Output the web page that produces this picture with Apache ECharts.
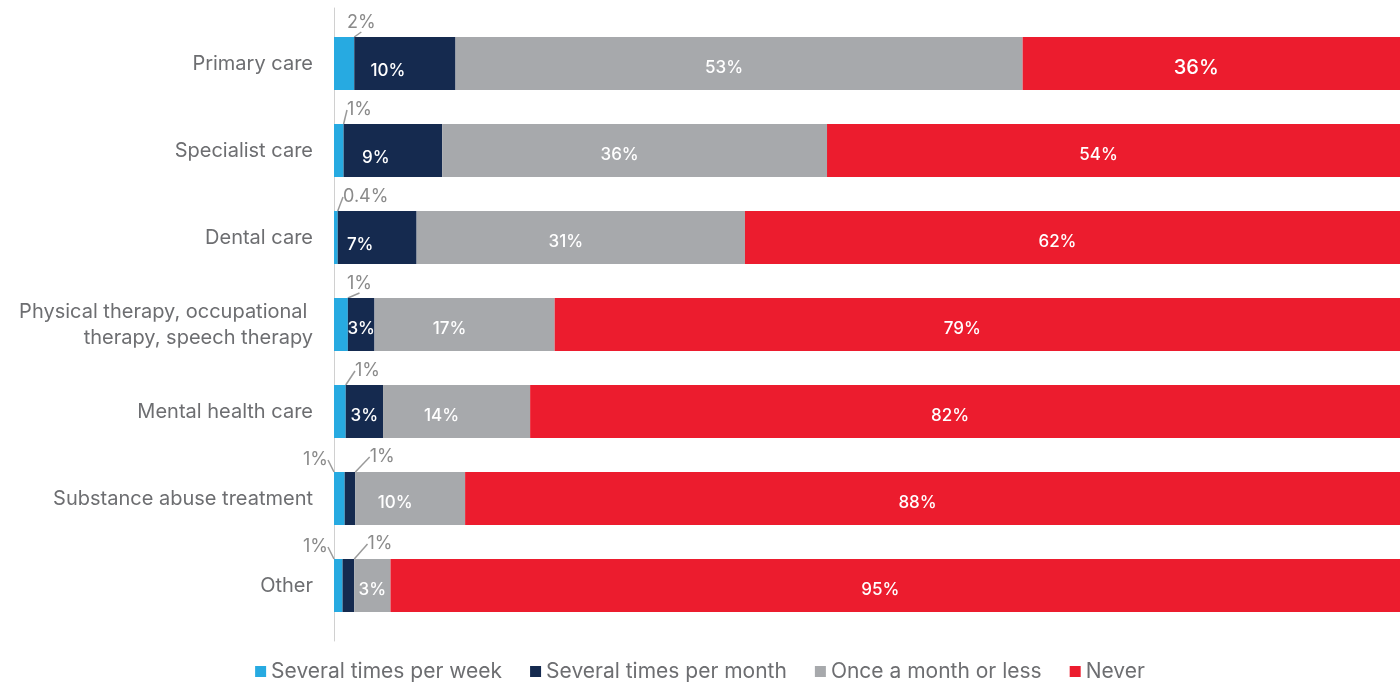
<!DOCTYPE html>
<html>
<head>
<meta charset="utf-8">
<script src="https://cdn.jsdelivr.net/npm/echarts@6/dist/echarts.min.js"></script>
<style>
  html, body { margin: 0; padding: 0; background: #fff; }
  #chart { width: 1400px; height: 684px; }
</style>
</head>
<body>
<div id="chart"></div>
<script>
// categories, top to bottom
var categories = [
  'Primary care',
  'Specialist care',
  'Dental care',
  'Physical therapy, occupational \ntherapy, speech therapy',
  'Mental health care',
  'Substance abuse treatment',
  'Other'
];
var seriesNames = ['Several times per week', 'Several times per month', 'Once a month or less', 'Never'];

// segment widths (percent)
var weekly  = [1.9, 0.9, 0.35, 1.3, 1.1, 1.0, 0.8];
var monthly = [9.5, 9.25, 7.4, 2.5, 3.5, 1.0, 1.1];
var monthOrLess = [53.2, 36.1, 30.8, 16.9, 13.8, 10.3, 3.4];
var never = [36, 54, 62, 79.4, 82, 88, 95];

// printed labels
var weeklyLabels  = ['2%', '1%', '0.4%', '1%', '1%', '1%', '1%'];
var monthlyLabels = ['10%', '9%', '7%', '3%', '3%', '1%', '1%'];
var monthOrLessLabels = ['53%', '36%', '31%', '17%', '14%', '10%', '3%'];
var neverLabels = ['36%', '54%', '62%', '79%', '82%', '88%', '95%'];

var colors = ['#27aae1', '#152a4f', '#a7a9ac', '#ec1c2e'];
var font = 'Inter';

var chart = echarts.init(document.getElementById('chart'));

var insideLabel = { show: true, position: 'inside', color: '#fff', fontSize: 17, fontWeight: 500, fontFamily: font };
var outsideLabel = { show: true, position: 'top', color: '#8a8a8a', fontSize: 18, fontFamily: font };
var guide = { show: true, lineStyle: { color: '#9a9a9a', width: 1.5 } };

function makeItems(values, labels, outsideRows) {
  return values.map(function (v, i) {
    var outside = outsideRows.indexOf(i) !== -1;
    var lbl = Object.assign({}, outside ? outsideLabel : insideLabel, { formatter: labels[i] });
    if (!outside) lbl.offset = v > 5 ? [-15, 4] : [0, 4];
    var item = { value: v, label: lbl };
    if (outside) item.labelLine = guide;
    return item;
  });
}

var neverItems = makeItems(never, neverLabels, []);
neverItems[0].label.fontSize = 20;

var option = {
  animation: false,
  color: colors,
  legend: {
    bottom: 2,
    left: 'center',
    padding: 0,
    itemWidth: 11,
    itemHeight: 11,
    itemGap: 28,
    icon: 'rect',
    textStyle: { color: '#6d6e71', fontSize: 21, fontFamily: font },
    data: seriesNames
  },
  grid: [
    { left: 334, right: -4, top: 20, height: 609 },
    { left: 334, right: 0, top: 8, bottom: 43 }
  ],
  xAxis: [
    { type: 'value', min: 0, max: 100, show: false },
    { type: 'value', gridIndex: 1, show: false }
  ],
  yAxis: [
    {
      type: 'category',
      data: categories,
      inverse: true,
      axisLine: { show: false },
      axisTick: { show: false },
      axisLabel: {
        color: '#6d6e71',
        fontSize: 20,
        fontFamily: font,
        margin: 21,
        lineHeight: 26,
        align: 'right'
      }
    },
    {
      type: 'value',
      gridIndex: 1,
      axisLine: { show: true, lineStyle: { color: '#d0d0d0', width: 1 } },
      axisTick: { show: false },
      axisLabel: { show: false },
      splitLine: { show: false }
    }
  ],
  series: [
    {
      name: seriesNames[0], type: 'bar', stack: 'total', barWidth: 53,
      data: makeItems(weekly, weeklyLabels, [0, 1, 2, 3, 4, 5, 6]),
      labelLayout: function (p) {
        if (p.dataIndex >= 5) {
          return { x: p.rect.x - 6, y: p.rect.y - 12, align: 'right', verticalAlign: 'middle' };
        }
        var dx = p.dataIndex === 4 ? 21 : (p.dataIndex === 2 ? 9 : 13);
        return { x: p.rect.x + dx, y: p.rect.y - 14, align: 'left', verticalAlign: 'middle' };
      }
    },
    {
      name: seriesNames[1], type: 'bar', stack: 'total', barWidth: 53,
      data: makeItems(monthly, monthlyLabels, [5, 6]),
      labelLayout: function (p) {
        if (p.dataIndex >= 5) {
          return { x: p.rect.x + 25, y: p.rect.y - 15, align: 'left', verticalAlign: 'middle' };
        }
        if (p.rect.width > 60) {
          return { dx: -17, dy: 7 };
        }
        return { dy: 4 };
      }
    },
    {
      name: seriesNames[2], type: 'bar', stack: 'total', barWidth: 53,
      data: makeItems(monthOrLess, monthOrLessLabels, [])
    },
    {
      name: seriesNames[3], type: 'bar', stack: 'total', barWidth: 53,
      data: neverItems
    }
  ]
};

chart.setOption(option);
</script>
</body>
</html>
